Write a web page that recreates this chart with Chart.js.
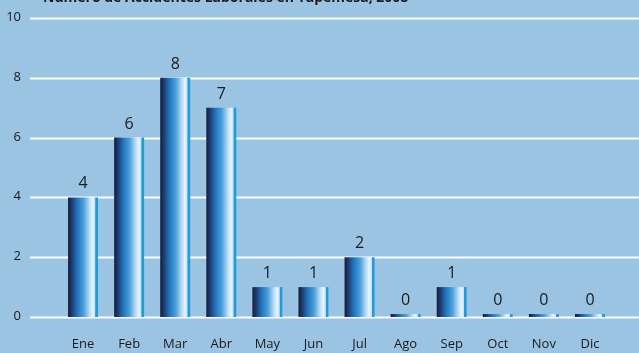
<!DOCTYPE html>
<html>
<head>
<meta charset="utf-8">
<script src="https://cdn.jsdelivr.net/npm/chart.js@4"></script>
<style>
  html, body { margin: 0; padding: 0; background: #9ac4e2; }
  #wrap { width: 639px; height: 353px; position: relative; }
</style>
</head>
<body>
<div id="wrap"><canvas id="chart"></canvas></div>
<script>
const months = ["Ene", "Feb", "Mar", "Abr", "May", "Jun", "Jul", "Ago", "Sep", "Oct", "Nov", "Dic"];
const accidents = [4, 6, 8, 7, 1, 1, 2, 0, 1, 0, 0, 0];
const yTicks = [0, 2, 4, 6, 8, 10];
const chartTitle = "Número de Accidentes Laborales en Tapemesa, 2008";

const FONT = "'Open Sans', 'Noto Sans', sans-serif";
const BAR_PCT = 0.65;

// cylinder-like shading for each bar
function barGradient(ctx) {
  const chart = ctx.chart;
  const x = chart.scales.x;
  if (!chart.chartArea || !x) return "#1f78c0";
  const slot = (x.right - x.left) / months.length;
  const w = slot * BAR_PCT;
  const cx = x.getPixelForValue(ctx.dataIndex);
  const g = chart.ctx.createLinearGradient(cx - w / 2, 0, cx + w / 2, 0);
  g.addColorStop(0.0, "#1b1a2e");
  g.addColorStop(0.12, "#1d3a72");
  g.addColorStop(0.3, "#1f74bc");
  g.addColorStop(0.52, "#4aa0dc");
  g.addColorStop(0.72, "#bcdcf4");
  g.addColorStop(0.83, "#eaf5ff");
  g.addColorStop(0.9, "#c4e0f5");
  g.addColorStop(0.92, "#1a9ee0");
  g.addColorStop(1.0, "#1a9ee0");
  return g;
}

// horizontal grid and y labels, wider than the plot area
const gridPlugin = {
  id: "wideGrid",
  beforeDatasetsDraw(chart) {
    const { ctx, scales: { y } } = chart;
    ctx.save();
    ctx.strokeStyle = "#ffffff";
    ctx.lineWidth = 2;
    ctx.fillStyle = "#1a1a1a";
    ctx.font = "13px " + FONT;
    ctx.textAlign = "right";
    ctx.textBaseline = "middle";
    yTicks.forEach(v => {
      const py = Math.round(y.getPixelForValue(v)) + 0.5;
      ctx.beginPath();
      ctx.moveTo(30, py);
      ctx.lineTo(chart.width, py);
      ctx.stroke();
      ctx.fillText(String(v), 21, py - 1);
    });
    ctx.restore();
  }
};

// value above each bar + title clipped at the top edge
const labelPlugin = {
  id: "valueLabels",
  afterDatasetsDraw(chart) {
    const { ctx } = chart;
    const meta = chart.getDatasetMeta(0);
    ctx.save();
    ctx.fillStyle = "#1a1a1a";
    ctx.font = "16px " + FONT;
    ctx.textAlign = "center";
    ctx.textBaseline = "alphabetic";
    meta.data.forEach((bar, i) => {
      ctx.fillText(String(accidents[i]), bar.x, bar.y - 9);
    });
    ctx.font = "bold 14px " + FONT;
    ctx.textAlign = "left";
    ctx.fillText(chartTitle, 43, 2);
    ctx.restore();
  }
};

new Chart(document.getElementById("chart"), {
  type: "bar",
  data: {
    labels: months,
    datasets: [{
      data: accidents,
      backgroundColor: barGradient,
      borderWidth: 0,
      minBarLength: 3,
      barPercentage: BAR_PCT,
      categoryPercentage: 1
    }]
  },
  options: {
    responsive: true,
    maintainAspectRatio: false,
    animation: false,
    layout: { padding: { left: 60, right: 26, top: 18, bottom: 0 } },
    plugins: { legend: { display: false }, tooltip: { enabled: false } },
    scales: {
      x: {
        grid: { display: false, drawTicks: false },
        border: { display: false },
        ticks: { color: "#1a1a1a", font: { family: FONT, size: 13 }, padding: 19 },
        afterFit(scale) { scale.height = 36; }
      },
      y: {
        display: false,
        min: 0,
        max: 10
      }
    }
  },
  plugins: [gridPlugin, labelPlugin]
});
</script>
</body>
</html>
